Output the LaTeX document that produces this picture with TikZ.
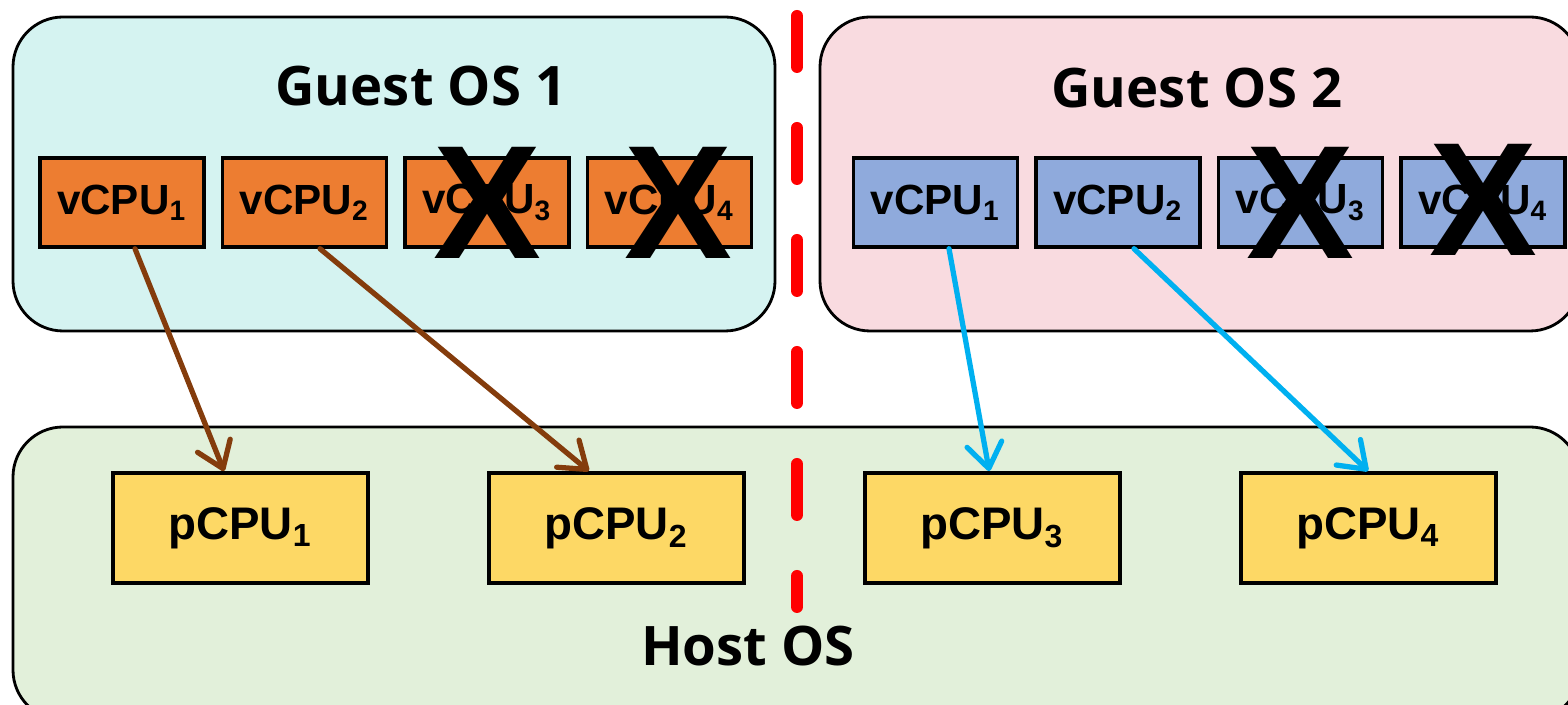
\documentclass[tikz,border=0pt]{standalone}
\usepackage{fontspec}
\setmainfont{Liberation Sans}
\newfontfamily\osfont{Open Sans}
\usepackage{tikz}
\definecolor{guestCyan}{HTML}{D5F3F1}
\definecolor{guestPink}{HTML}{F9DBE0}
\definecolor{hostGreen}{HTML}{E2F0DA}
\definecolor{vcpuOrange}{HTML}{ED7D31}
\definecolor{vcpuBlue}{HTML}{8FAADC}
\definecolor{pcpuYellow}{HTML}{FDD865}
\definecolor{mapBrown}{HTML}{843C0C}
\definecolor{mapBlue}{HTML}{00B0F0}
\usetikzlibrary{arrows.meta, positioning}

\begin{document}
\begin{tikzpicture}[
    node distance=1.5mm,
    osbox/.style={draw=black, line width=0.8pt, rounded corners=5mm},
    vcpu/.style={rectangle, draw=black, line width=1pt, minimum width=1.64cm, minimum height=0.89cm, inner sep=0pt, font=\fontsize{12}{14}\selectfont\bfseries},
    pcpu/.style={rectangle, draw=black, line width=1.1pt, fill=pcpuYellow, minimum width=2.55cm, minimum height=1.1cm, inner sep=0pt, font=\fontsize{13}{15}\selectfont\bfseries},
    ostitle/.style={font=\osfont\fontsize{15.5}{19}\selectfont\bfseries},
    cross/.style={inner sep=0pt, font=\fontsize{46}{50}\selectfont\bfseries},
    map/.style={line width=1.5pt, line cap=round, -{Straight Barb[length=7pt, width=10pt, round]}}
]
    \useasboundingbox (0,0) rectangle (15.68,7.05);
    \clip (0,0) rectangle (15.68,7.05);

    \draw[osbox, fill=guestCyan] (0.13,3.74) rectangle (7.75,6.88);
    \draw[osbox, fill=guestPink] (8.20,3.74) rectangle (15.80,6.88);
    \draw[osbox, fill=hostGreen] (0.13,-0.15) rectangle (15.80,2.78);

    \node[ostitle] (g1) at (4.21,6.19) {Guest OS 1};
    \node[ostitle] (g2) at (11.97,6.17) {Guest OS 2};
    \node[ostitle] (host) at (7.48,0.59) {Host OS};

    \node[vcpu, fill=vcpuOrange] (v11) at (1.22,5.025) {vCPU\textsubscript{1}};
    \node[vcpu, fill=vcpuOrange, right=of v11] (v12) {vCPU\textsubscript{2}};
    \node[vcpu, fill=vcpuOrange, right=of v12] (v13) {vCPU\textsubscript{3}};
    \node[vcpu, fill=vcpuOrange, right=of v13] (v14) {vCPU\textsubscript{4}};

    \node[vcpu, fill=vcpuBlue] (v21) at (9.355,5.025) {vCPU\textsubscript{1}};
    \node[vcpu, fill=vcpuBlue, right=of v21] (v22) {vCPU\textsubscript{2}};
    \node[vcpu, fill=vcpuBlue, right=of v22] (v23) {vCPU\textsubscript{3}};
    \node[vcpu, fill=vcpuBlue, right=of v23] (v24) {vCPU\textsubscript{4}};

    \node[cross] (x13) at (v13.center) {X};
    \node[cross] (x14) at ([xshift=0.9mm]v14.center) {X};
    \node[cross] (x23) at (v23.center) {X};
    \node[cross] (x24) at ([yshift=0.3mm]v24.center) {X};

    \node[pcpu] (p1) at (2.405,1.77) {pCPU\textsubscript{1}};
    \node[pcpu, right=1.17cm of p1] (p2) {pCPU\textsubscript{2}};
    \node[pcpu, right=1.17cm of p2] (p3) {pCPU\textsubscript{3}};
    \node[pcpu, right=1.17cm of p3] (p4) {pCPU\textsubscript{4}};

    \draw[red, line width=0.12cm, line cap=round, dash pattern=on 0.51cm off 0.61cm] (7.97,6.89) -- (7.97,0.98);

    \draw[map, mapBrown] ([xshift=1.3mm]v11.south) -- ([xshift=-1.65mm]p1.north);
    \draw[map, mapBrown] ([xshift=1.55mm]v12.south) -- ([xshift=-2.75mm]p2.north);
    \draw[map, mapBlue] ([xshift=1.35mm]v21.south) -- ([xshift=-0.3mm]p3.north);
    \draw[map, mapBlue] ([xshift=1.6mm]v22.south) -- (p4.north);
\end{tikzpicture}
\end{document}
